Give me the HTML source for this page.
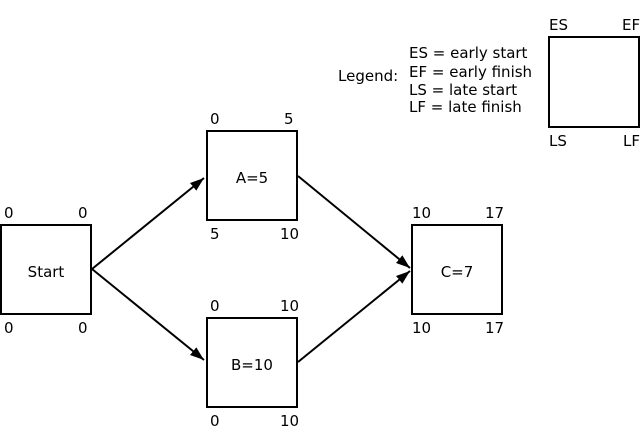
<!DOCTYPE html>
<html><head><style>
html,body{margin:0;padding:0;background:#fff;}
</style></head><body>
<svg width="640" height="441" viewBox="0 0 640 441" xmlns="http://www.w3.org/2000/svg">
<defs><marker id="a" markerWidth="14" markerHeight="10" refX="14" refY="5" orient="auto" markerUnits="userSpaceOnUse"><path d="M0,0 L14,5 L0,10 z" fill="#000"/></marker></defs>
<g fill="none" stroke="#000" stroke-width="2">
<rect x="1" y="225" width="90" height="89"/>
<rect x="207" y="131" width="90" height="89"/>
<rect x="207" y="318" width="90" height="89"/>
<rect x="412" y="225" width="90" height="89"/>
<rect x="549" y="37" width="90" height="90"/>
</g>
<g stroke="#000" stroke-width="2">
<line x1="92" y1="269" x2="204" y2="178" marker-end="url(#a)"/>
<line x1="92" y1="269" x2="204" y2="360" marker-end="url(#a)"/>
<line x1="298" y1="176" x2="410" y2="268" marker-end="url(#a)"/>
<line x1="298" y1="362" x2="410" y2="271" marker-end="url(#a)"/>
</g>
<g font-family="DejaVu Sans, Liberation Sans, sans-serif" font-size="15" fill="#000" style="font-size:15px">
<text x="46" y="277" text-anchor="middle">Start</text>
<text x="252" y="183" text-anchor="middle">A=5</text>
<text x="252" y="370" text-anchor="middle">B=10</text>
<text x="457" y="277" text-anchor="middle">C=7</text>
<text x="4" y="218">0</text><text x="78" y="218">0</text>
<text x="4" y="333">0</text><text x="78" y="333">0</text>
<text x="210" y="124">0</text><text x="284" y="124">5</text>
<text x="210" y="239">5</text><text x="280" y="239">10</text>
<text x="210" y="311">0</text><text x="280" y="311">10</text>
<text x="210" y="426">0</text><text x="280" y="426">10</text>
<text x="412" y="218">10</text><text x="485" y="218">17</text>
<text x="412" y="333">10</text><text x="485" y="333">17</text>
<text x="549" y="30">ES</text><text x="622" y="30">EF</text>
<text x="549" y="146">LS</text><text x="623" y="146">LF</text>
<text x="338" y="81">Legend:</text>
<text x="409" y="58">ES = early start</text>
<text x="409" y="77">EF = early finish</text>
<text x="409" y="95">LS = late start</text>
<text x="409" y="112">LF = late finish</text>
</g>
</svg>
</body></html>
